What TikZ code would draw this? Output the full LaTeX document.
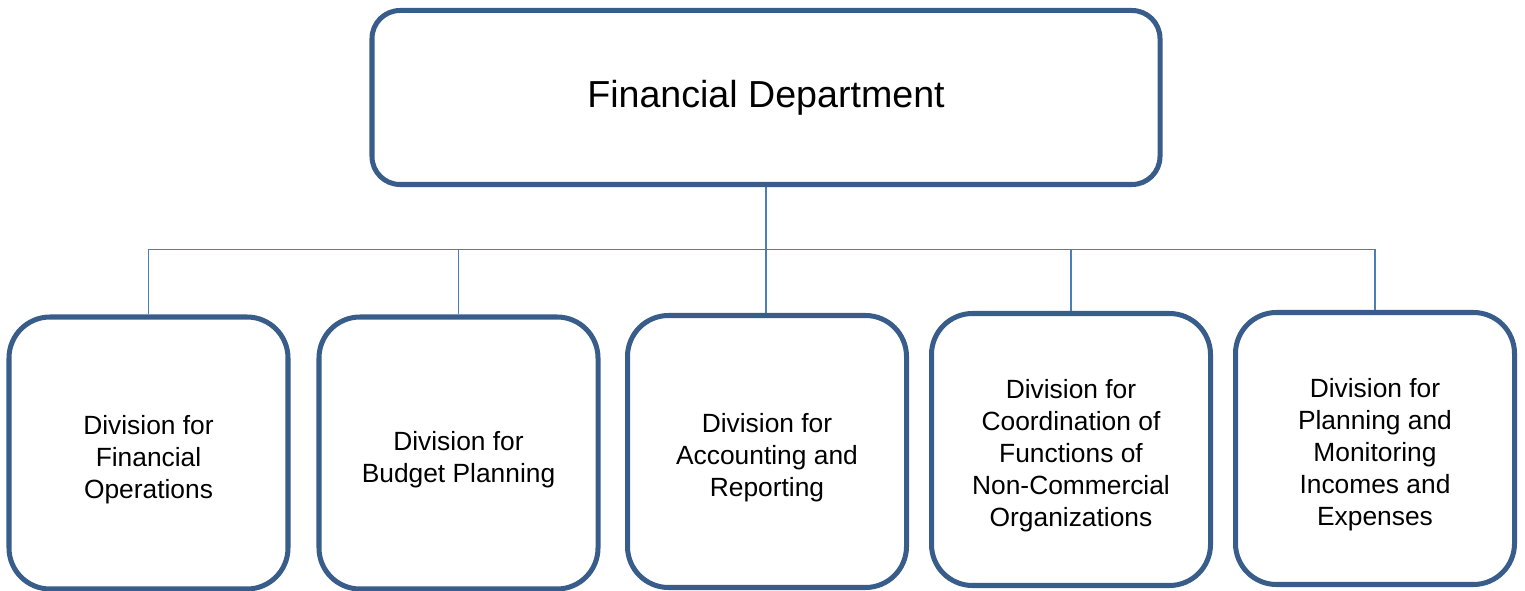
\documentclass[tikz,border=0pt]{standalone}
\usepackage{fontspec}
\setmainfont{Liberation Sans}
\usepackage{tikz}
\usetikzlibrary{positioning,calc}
\definecolor{azulBorde}{RGB}{56, 93, 138}
\definecolor{azulLinea}{RGB}{74, 126, 187}
\tikzstyle{head}    =[rectangle, draw=azulBorde, rounded corners=0.56cm,
                      line width=2.85pt, minimum width=15.76cm,
                      minimum height=3.48cm, inner sep=0pt,
                      font=\fontsize{21.4}{25}\selectfont]
\tikzstyle{division}=[rectangle, draw=azulBorde, rounded corners=0.82cm,
                      line width=2.85pt, minimum width=5.58cm,
                      minimum height=5.44cm, inner sep=0pt, align=center,
                      font=\fontsize{15}{18.2}\selectfont]
\tikzstyle{link}    =[draw=azulLinea, line width=1.1pt]

\begin{document}
\begin{tikzpicture}

        \useasboundingbox (0,0) rectangle (30.5,11.8);

        \node[head] (dept) at (15.32,9.85) {Financial Department};

        % strut on the first line pushes the text a little down
        \foreach \i/\x/\y/\txt in {
            1/2.97/2.74/{Division for\\Financial\\Operations},
            2/9.17/2.74/{Division for\\Budget Planning},
            3/15.34/2.77/{Division for\\Accounting and\\Reporting},
            4/21.42/2.81/{Division for\\Coordination of\\Functions of\\Non-Commercial\\Organizations},
            5/27.50/2.83/{Division for\\Planning and\\Monitoring\\Incomes and\\Expenses}}
            \node[division] (d\i) at (\x,\y) {\rule{0pt}{0.64cm}\txt};

        % branch bar
        \coordinate (bar) at (0,6.81);

        \draw[link] (dept.south) -- (dept.south |- d3.north);
        \draw[link] (d1.north |- bar) -- (d5.north |- bar);

        \foreach \i in {1,2,4,5}
            \draw[link] (d\i.north) -- (d\i.north |- bar);

\end{tikzpicture}
\end{document}
